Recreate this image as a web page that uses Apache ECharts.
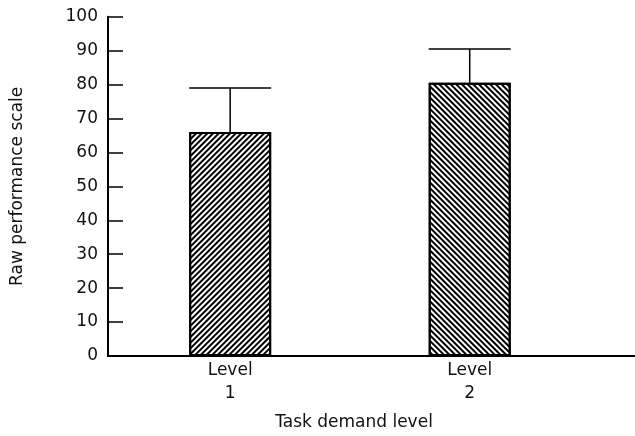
<!DOCTYPE html>
<html><head><meta charset="utf-8">
<script src="https://cdn.jsdelivr.net/npm/echarts@6/dist/echarts.min.js"></script>
<style>html,body{margin:0;padding:0;background:#fff}#c{width:635px;height:436px}</style>
</head><body><div id="c"></div>
<script>
const categories = ['Level\n1', 'Level\n2'];
const positions = [1, 2];
const means = [66, 80.5];
const upper = [79, 90.5];
const yTicks = [0, 10, 20, 30, 40, 50, 60, 70, 80, 90, 100];
const hatchRot = [-Math.PI / 4, Math.PI / 4];

const BAR_W = 82;
const FONT = 'DejaVu Sans';
const TXT = '#111';

const chart = echarts.init(document.getElementById('c'));
chart.setOption({
  animation: false,
  aria: { enabled: true, decal: { show: true } },
  grid: { left: 108, right: 0, top: 16.7, bottom: 79, containLabel: false },
  xAxis: {
    type: 'value', min: 0.49, max: 2.69,
    name: 'Task demand level', nameLocation: 'middle', nameGap: 58,
    nameTextStyle: { fontFamily: FONT, fontSize: 17, color: TXT, padding: [0, 35, 0, 0] },
    axisLine: { show: true, onZero: false, lineStyle: { color: '#000', width: 2 } },
    axisTick: { show: false },
    splitLine: { show: false },
    axisLabel: {
      customValues: positions,
      formatter: v => categories[positions.indexOf(v)] || '',
      fontFamily: FONT, fontSize: 17, color: TXT, lineHeight: 23, margin: 3
    }
  },
  yAxis: {
    type: 'value', min: 0, max: 100, interval: 10,
    name: 'Raw performance scale', nameLocation: 'middle', nameGap: 82, nameRotate: 90,
    nameTextStyle: { fontFamily: FONT, fontSize: 17, color: TXT },
    axisLine: { show: true, lineStyle: { color: '#000', width: 2 } },
    axisTick: { show: true, inside: true, length: 15, lineStyle: { color: '#000', width: 1.5 } },
    splitLine: { show: false },
    axisLabel: {
      formatter: v => yTicks.includes(v) ? String(v) : '',
      fontFamily: FONT, fontSize: 17, color: TXT, margin: 10
    }
  },
  series: [
    {
      type: 'bar',
      barWidth: BAR_W,
      data: positions.map((p, i) => ({
        value: [p, means[i]],
        itemStyle: {
          color: '#fff', borderColor: '#000', borderWidth: 2,
          decal: { symbol: 'rect', symbolSize: 1, dashArrayX: [1, 0], dashArrayY: [2, 1.7], rotation: hatchRot[i], color: '#000' }
        }
      }))
    },
    {
      type: 'custom',
      data: positions.map((p, i) => [p, means[i], upper[i]]),
      renderItem: (params, api) => {
        const top = api.coord([api.value(0), api.value(2)]);
        const base = api.coord([api.value(0), api.value(1)]);
        const hw = BAR_W / 2;
        const st = { stroke: '#000', lineWidth: 1.5 };
        return {
          type: 'group',
          children: [
            { type: 'line', shape: { x1: top[0], y1: top[1], x2: base[0], y2: base[1] }, style: st },
            { type: 'line', shape: { x1: top[0] - hw, y1: top[1], x2: top[0] + hw, y2: top[1] }, style: st }
          ]
        };
      },
      z: 3
    }
  ]
});
</script></body></html>
